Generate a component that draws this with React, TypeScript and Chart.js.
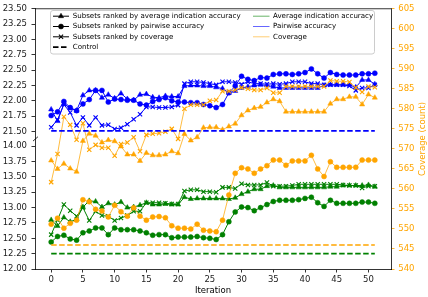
import React, { useEffect, useRef } from "react";
import { Chart, registerables } from "chart.js";
import { drawPoint } from "chart.js/helpers";

Chart.register(...registerables);

// ---- data -------------------------------------------------------------

const iterations = [
  0, 1, 2, 3, 4, 5, 6, 7, 8, 9, 10, 11, 12, 13, 14, 15, 16, 17, 18, 19, 20, 21, 22, 23, 24, 25,
  26, 27, 28, 29, 30, 31, 32, 33, 34, 35, 36, 37, 38, 39, 40, 41, 42, 43, 44, 45, 46, 47, 48, 49, 50, 51,
];

// Pairwise accuracy (upper segment of the left axis)
const pairwiseRankedByAvg = [
  21.86, 21.67, 21.95, 21.88, 21.84, 22.09, 22.17, 22.17, 22.05, 22.1,
  22.04, 22.12, 22.03, 22.01, 22.1, 22.11, 22.06, 22.05, 22.08, 22.07,
  22.07, 22.24, 22.25, 22.25, 22.24, 22.24, 22.22, 22.2, 22.13, 22.16,
  22.21, 22.23, 22.25, 22.26, 22.25, 22.23, 22.21, 22.21, 22.21, 22.21,
  22.21, 22.21, 22.21, 22.25, 22.26, 22.26, 22.26, 22.26, 22.22, 22.34,
  22.34, 22.27,
];
const pairwiseRankedByPairwise = [
  21.76, 21.82, 21.99, 21.89, 21.84, 21.95, 22.02, 22.17, 22.17, 21.98,
  22.03, 22.02, 22.01, 22.01, 21.95, 21.93, 21.99, 22.02, 22.05, 22.0,
  21.98, 21.98, 21.97, 21.97, 21.94, 21.92, 21.89, 21.94, 22.13, 22.24,
  22.4, 22.35, 22.33, 22.38, 22.37, 22.43, 22.44, 22.44, 22.43, 22.44,
  22.46, 22.52, 22.44, 22.37, 22.46, 22.43, 22.42, 22.42, 22.42, 22.44,
  22.44, 22.45,
];
const pairwiseRankedByCoverage = [
  21.57, 21.69, 21.94, 21.81, 21.6, 21.73, 21.6, 21.73, 21.6, 21.61,
  21.54, 21.56, 21.62, 21.7, 21.78, 21.9, 21.9, 21.89, 21.89, 21.9,
  21.93, 22.28, 22.31, 22.31, 22.3, 22.28, 22.26, 22.31, 22.31, 22.3,
  22.27, 22.31, 22.28, 22.28, 22.27, 22.28, 22.27, 22.28, 22.31, 22.31,
  22.31, 22.28, 22.28, 22.26, 22.26, 22.26, 22.26, 22.24, 22.17, 22.21,
  22.21, 22.26,
];
const pairwiseControl = 21.51;

// Average indication accuracy (lower segment of the left axis)
const avgIndRankedByAvg = [
  12.8, 12.7, 12.84, 12.77, 12.81, 13.01, 13.11, 13.1, 13.01, 13.07,
  13.05, 13.09, 13.0, 13.01, 13.04, 13.08, 13.05, 13.05, 13.06, 13.05,
  13.05, 13.17, 13.14, 13.15, 13.15, 13.15, 13.15, 13.15, 13.14, 13.16,
  13.22, 13.26, 13.3, 13.3, 13.35, 13.36, 13.33, 13.33, 13.33, 13.33,
  13.33, 13.33, 13.33, 13.33, 13.34, 13.34, 13.36, 13.36, 13.36, 13.36,
  13.37, 13.34,
];
const avgIndRankedByPairwise = [
  12.44, 12.53, 12.55, 12.49, 12.47, 12.59, 12.62, 12.67, 12.67, 12.56,
  12.67, 12.64, 12.64, 12.64, 12.62, 12.59, 12.55, 12.56, 12.56, 12.51,
  12.52, 12.52, 12.52, 12.53, 12.51, 12.5, 12.48, 12.56, 12.77, 12.93,
  13.01, 13.0, 12.95, 13.0, 13.05, 13.1, 13.12, 13.12, 13.12, 13.13,
  13.15, 13.17, 13.08, 13.02, 13.12, 13.07, 13.07, 13.07, 13.07, 13.09,
  13.09, 13.07,
];
const avgIndRankedByCoverage = [
  12.56, 12.8, 13.05, 12.95, 12.86, 13.0, 12.79, 12.94, 12.87, 12.86,
  12.79, 12.83, 12.87, 12.94, 12.94, 13.08, 13.08, 13.08, 13.07, 13.06,
  13.06, 13.27, 13.29, 13.29, 13.26, 13.26, 13.25, 13.33, 13.33, 13.31,
  13.39, 13.37, 13.37, 13.37, 13.41, 13.35, 13.35, 13.35, 13.36, 13.38,
  13.38, 13.38, 13.38, 13.38, 13.38, 13.38, 13.37, 13.36, 13.36, 13.32,
  13.35, 13.35,
];
const avgIndControl = 12.25;

// Coverage (right axis)
const coverageRankedByAvg = [
  567.1, 565.0, 566.3, 565.1, 564.3, 572.0, 573.8, 573.3, 571.6, 572.2,
  571.9, 570.6, 568.6, 568.6, 567.0, 569.0, 568.4, 568.4, 568.6, 569.4,
  568.9, 573.7, 572.1, 572.9, 575.3, 575.4, 575.4, 574.8, 575.6, 576.3,
  578.4, 579.6, 580.2, 580.5, 581.6, 582.4, 581.9, 579.3, 579.3, 579.3,
  579.3, 579.3, 579.3, 579.3, 581.3, 582.4, 582.4, 583.0, 583.0, 581.1,
  583.6, 582.8,
];
const coverageRankedByPairwise = [
  551.2, 552.7, 550.2, 551.4, 552.2, 557.3, 556.8, 554.9, 554.5, 553.0,
  555.9, 554.3, 553.2, 555.3, 553.2, 552.2, 553.0, 553.1, 552.8, 550.8,
  550.2, 550.2, 550.0, 551.2, 549.7, 549.5, 549.3, 552.2, 558.5, 563.9,
  565.3, 565.0, 563.9, 565.0, 565.8, 567.2, 567.2, 565.9, 567.0, 567.0,
  567.0, 568.4, 565.0, 563.1, 566.8, 565.4, 565.4, 565.4, 565.4, 567.2,
  567.2, 567.2,
];
const coverageRankedByCoverage = [
  561.7, 568.7, 578.0, 576.0, 572.3, 576.4, 569.8, 571.0, 570.3, 570.3,
  568.3, 571.2, 571.6, 572.9, 569.4, 573.5, 573.8, 573.9, 574.3, 575.0,
  572.5, 580.0, 581.0, 581.0, 581.0, 582.0, 582.2, 584.4, 584.4, 584.7,
  585.3, 585.0, 584.7, 584.7, 585.2, 584.0, 584.0, 585.6, 585.6, 585.6,
  585.6, 585.6, 585.6, 585.6, 587.1, 586.9, 586.9, 586.7, 585.3, 584.2,
  585.6, 585.4,
];
const coverageControl = 546;

// Tick labels
const xTicks = [0, 5, 10, 15, 20, 25, 30, 35, 40, 45, 50];
const lowerTicks = [12.0, 12.25, 12.5, 12.75, 13.0, 13.25, 13.5, 13.75, 14.0];
const upperTicks = [21.5, 21.75, 22.0, 22.25, 22.5, 22.75, 23.0, 23.25, 23.5];

const legendMarkerLabels = [
  "Subsets ranked by average indication accuracy",
  "Subsets ranked by pairwise accuracy",
  "Subsets ranked by coverage",
  "Control",
];
const legendMetricLabels = ["Average indication accuracy", "Pairwise accuracy", "Coverage"];

// ---- styling ----------------------------------------------------------

// The left axis is broken: 21.50-23.50 sits just above 12.00-14.00,
// so upper-segment values are shifted down onto one continuous scale.
const BREAK_SHIFT = 7.26;
const LOWER_TOP = 14.0;
const Y_MAX = 23.5 - BREAK_SHIFT;

const BLUE = "#0000ff";
const GREEN = "#008000";
const ORANGE = "#ffa500";
const ORANGE_LINE = "rgba(255,165,0,0.75)";
const FONT = "DejaVu Sans";
const TICK_SIZE = 8.5;
const LEGEND_SIZE = 7.08;

type Marker = "triangle" | "circle" | "crossRot";
const markerRadius: Record<Marker, number> = { triangle: 3, circle: 2.5, crossRot: 3 };

function series(values: number[], color: string, lineColor: string, marker: Marker, axis: string, shift = 0) {
  return {
    data: iterations.map((x, i) => ({ x, y: values[i] - shift })),
    yAxisID: axis,
    borderColor: lineColor,
    backgroundColor: color,
    borderWidth: 1,
    pointStyle: marker,
    pointRadius: markerRadius[marker],
    pointBackgroundColor: color,
    pointBorderColor: color,
    pointBorderWidth: marker === "crossRot" ? 1.1 : 0.5,
    fill: false,
    tension: 0,
  };
}

function control(value: number, color: string, axis: string, shift = 0) {
  const first = iterations[0];
  const last = iterations[iterations.length - 1];
  return {
    data: [
      { x: first, y: value - shift },
      { x: last, y: value - shift },
    ],
    yAxisID: axis,
    borderColor: color,
    borderWidth: 1.6,
    borderDash: [5.5, 2.5],
    pointRadius: 0,
    fill: false,
  };
}

const decorations = {
  id: "decorations",
  afterDraw(chart: any) {
    const { ctx, chartArea: a } = chart;
    const yScale = chart.scales.y;
    ctx.save();

    // top spine
    ctx.strokeStyle = "#000";
    ctx.lineWidth = 0.8;
    ctx.beginPath();
    ctx.moveTo(a.left, a.top);
    ctx.lineTo(a.right, a.top);
    ctx.stroke();

    // break mark on the left spine
    const yb = (yScale.getPixelForValue(LOWER_TOP) + yScale.getPixelForValue(21.5 - BREAK_SHIFT)) / 2;
    ctx.beginPath();
    ctx.moveTo(a.left - 2, yb + 2.2);
    ctx.lineTo(a.left + 3, yb - 2.2);
    ctx.stroke();

    // legend frame
    const lx = 50.5, ly = 10.5, lw = 324, lh = 43.5;
    ctx.beginPath();
    ctx.roundRect(lx, ly, lw, lh, 2.5);
    ctx.fillStyle = "rgba(255,255,255,0.8)";
    ctx.fill();
    ctx.strokeStyle = "#cccccc";
    ctx.lineWidth = 1;
    ctx.stroke();

    const rows = [16.2, 26.5, 36.8, 47.1];
    ctx.font = `${LEGEND_SIZE}px "${FONT}"`;
    ctx.textBaseline = "middle";
    ctx.textAlign = "left";

    // first column: marker styles, drawn in black
    const markers: (Marker | null)[] = ["triangle", "circle", "crossRot", null];
    markers.forEach((m, i) => {
      const y = rows[i];
      ctx.strokeStyle = "#000";
      ctx.fillStyle = "#000";
      ctx.beginPath();
      if (m) {
        ctx.lineWidth = 1;
        ctx.setLineDash([]);
      } else {
        ctx.lineWidth = 1.6;
        ctx.setLineDash([5.5, 2.5]);
      }
      ctx.moveTo(53, y);
      ctx.lineTo(69, y);
      ctx.stroke();
      ctx.setLineDash([]);
      if (m) {
        ctx.lineWidth = m === "crossRot" ? 1.1 : 0.5;
        drawPoint(ctx, { pointStyle: m, radius: markerRadius[m], rotation: 0, borderWidth: ctx.lineWidth }, 61, y);
      }
      ctx.fillStyle = "#000";
      ctx.fillText(legendMarkerLabels[i], 72.7, y);
    });

    // second column: metric colours
    const metricColors = ["rgba(0,128,0,0.6)", "rgba(0,0,255,0.6)", "rgba(255,165,0,0.55)"];
    metricColors.forEach((c, i) => {
      const y = rows[i];
      ctx.strokeStyle = c;
      ctx.lineWidth = 1;
      ctx.beginPath();
      ctx.moveTo(253, y);
      ctx.lineTo(269.5, y);
      ctx.stroke();
      ctx.fillStyle = "#000";
      ctx.fillText(legendMetricLabels[i], 273, y);
    });

    // axis titles
    ctx.font = `${TICK_SIZE}px "${FONT}"`;
    ctx.fillStyle = "#000";
    ctx.textAlign = "center";
    ctx.fillText("Iteration", (a.left + a.right) / 2, 290.5);

    ctx.translate(422.5, (a.top + a.bottom) / 2);
    ctx.rotate(-Math.PI / 2);
    ctx.fillStyle = ORANGE;
    ctx.fillText("Coverage (count)", 0, 0);

    ctx.restore();
  },
};

export default function App() {
  const ref = useRef<HTMLCanvasElement>(null);

  useEffect(() => {
    const canvas = ref.current;
    if (!canvas) return;
    const tickFont = { family: FONT, size: TICK_SIZE, lineHeight: 1 };

    const datasets: any[] = [
      control(pairwiseControl, BLUE, "y", BREAK_SHIFT),
      control(avgIndControl, GREEN, "y"),
      control(coverageControl, ORANGE, "y1"),
      series(coverageRankedByAvg, ORANGE, ORANGE_LINE, "triangle", "y1"),
      series(coverageRankedByPairwise, ORANGE, ORANGE_LINE, "circle", "y1"),
      series(coverageRankedByCoverage, ORANGE, ORANGE_LINE, "crossRot", "y1"),
      series(avgIndRankedByAvg, GREEN, GREEN, "triangle", "y"),
      series(avgIndRankedByPairwise, GREEN, GREEN, "circle", "y"),
      series(avgIndRankedByCoverage, GREEN, GREEN, "crossRot", "y"),
      series(pairwiseRankedByAvg, BLUE, BLUE, "triangle", "y", BREAK_SHIFT),
      series(pairwiseRankedByPairwise, BLUE, BLUE, "circle", "y", BREAK_SHIFT),
      series(pairwiseRankedByCoverage, BLUE, BLUE, "crossRot", "y", BREAK_SHIFT),
    ];

    const leftTickValues = [...lowerTicks, ...upperTicks.map((v) => v - BREAK_SHIFT)];

    const chart = new Chart(canvas, {
      type: "line",
      data: { datasets },
      options: {
        responsive: false,
        animation: false,
        devicePixelRatio: 1,
        events: [],
        layout: { padding: { top: 4, left: 0, right: 0, bottom: 0 } },
        plugins: { legend: { display: false }, tooltip: { enabled: false } },
        scales: {
          x: {
            type: "linear",
            position: "bottom",
            min: -2.55,
            max: 53.55,
            afterBuildTicks: (s: any) => {
              s.ticks = xTicks.map((value) => ({ value }));
            },
            afterFit: (s: any) => {
              s.height = 28;
            },
            ticks: { font: tickFont, color: "#222", padding: 3, maxRotation: 0, autoSkip: false, callback: (v: any) => String(v) },
            grid: { drawOnChartArea: false, drawTicks: true, tickLength: 3.5, tickColor: "#000", tickWidth: 0.8 },
            border: { display: true, color: "#000", width: 0.8 },
          },
          y: {
            type: "linear",
            position: "left",
            min: 12,
            max: Y_MAX,
            afterBuildTicks: (s: any) => {
              s.ticks = leftTickValues.map((value) => ({ value }));
            },
            afterFit: (s: any) => {
              s.width = 35;
            },
            ticks: {
              font: tickFont,
              color: "#222",
              padding: 4.5,
              autoSkip: false,
              callback: (v: any) => (v > LOWER_TOP + 0.01 ? v + BREAK_SHIFT : v).toFixed(2),
            },
            grid: { drawOnChartArea: false, drawTicks: true, tickLength: 3.5, tickColor: "#000", tickWidth: 0.8 },
            border: { display: true, color: "#000", width: 0.8 },
          },
          y1: {
            type: "linear",
            position: "right",
            min: 540,
            max: 605,
            afterFit: (s: any) => {
              s.width = 37;
            },
            ticks: { font: tickFont, color: ORANGE, padding: 3.8, stepSize: 5, autoSkip: false, callback: (v: any) => String(v) },
            grid: { drawOnChartArea: false, drawTicks: true, tickLength: 3.5, tickColor: ORANGE, tickWidth: 0.8 },
            border: { display: true, color: "#000", width: 0.8 },
          },
        },
      },
      plugins: [decorations],
    } as any);

    return () => chart.destroy();
  }, []);

  return (
    <div style={{ position: "absolute", left: 0, top: 0, width: 428, height: 297, background: "#fff" }}>
      <canvas ref={ref} width={428} height={297} style={{ display: "block", width: 428, height: 297 }} />
    </div>
  );
}
